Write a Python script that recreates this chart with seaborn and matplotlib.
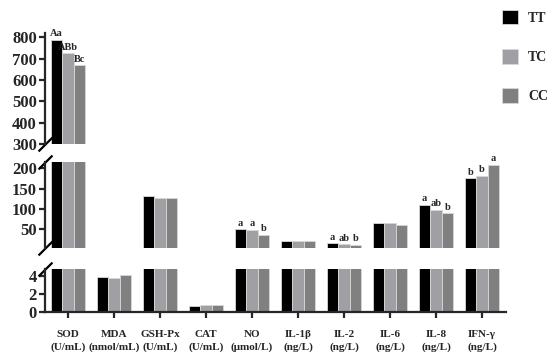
import pandas as pd
import numpy as np
import matplotlib.pyplot as plt
import seaborn as sns
from matplotlib.patches import Patch

# data
indices = ['SOD\n(U/mL)', 'MDA\n(nmol/mL)', 'GSH-Px\n(U/mL)', 'CAT\n(U/mL)', 'NO\n(μmol/L)',
           'IL-1β\n(ng/L)', 'IL-2\n(ng/L)', 'IL-6\n(ng/L)', 'IL-8\n(ng/L)', 'IFN-γ\n(ng/L)']
groups = ['TT', 'TC', 'CC']
tt_vals = [790, 3.9, 133, 0.70, 51, 22, 16, 67, 111, 175]
tc_vals = [725, 3.8, 128, 0.80, 49, 21, 14, 65, 98, 181]
cc_vals = [670, 4.1, 126, 0.75, 37, 23, 13, 61, 90, 208]
tt_sig = ['Aa', '', '', '', 'a', '', 'a', '', 'a', 'b']
tc_sig = ['ABb', '', '', '', 'a', '', 'ab', '', 'ab', 'b']
cc_sig = ['Bc', '', '', '', 'b', '', 'b', '', 'b', 'a']
colors = ['#000000', '#a0a0a4', '#808080']

rows = []
for g, vals, sig in zip(groups, [tt_vals, tc_vals, cc_vals], [tt_sig, tc_sig, cc_sig]):
    for ind, v, s in zip(indices, vals, sig):
        rows.append({'index': ind, 'group': g, 'value': v, 'sig': s})
df = pd.DataFrame(rows)

sns.set_style('ticks')
plt.rcParams['font.family'] = ['Liberation Serif', 'DejaVu Serif']
plt.rcParams['font.weight'] = 'bold'

fig = plt.figure(figsize=(5.5, 3.64), dpi=100)
ax_top = fig.add_axes([0.082, 0.604, 0.838, 0.305])
ax_mid = fig.add_axes([0.082, 0.319, 0.838, 0.236])
ax_bot = fig.add_axes([0.082, 0.143, 0.838, 0.118])

limits = [(300, 820), (5, 215), (0, 4.8)]
yticks = [[300, 400, 500, 600, 700, 800], [50, 100, 150, 200], [0, 2, 4]]

for ax, lim, tk in zip([ax_top, ax_mid, ax_bot], limits, yticks):
    sns.barplot(data=df, x='index', y='value', hue='group', order=indices, hue_order=groups,
                palette=colors, width=0.75, gap=0, edgecolor='#d8d8d8', linewidth=0.6,
                errorbar=None, legend=False, ax=ax)
    ax.set_ylim(*lim)
    ax.set_xlim(-0.5, 9.52)
    ax.set_yticks(tk)
    ax.set_xlabel('')
    ax.set_ylabel('')
    for sp in ['top', 'right']:
        ax.spines[sp].set_visible(False)
    for sp in ['left', 'bottom']:
        ax.spines[sp].set_linewidth(1.6)
    ax.tick_params(axis='y', length=4, width=1.6, labelsize=12, pad=2)
    ax.tick_params(axis='x', length=4, width=1.6, labelsize=8, pad=9)
    for lab in ax.get_yticklabels():
        lab.set_fontweight('bold')

for ax in [ax_top, ax_mid]:
    ax.spines['bottom'].set_visible(False)
    ax.tick_params(axis='x', bottom=False, labelbottom=False)

for lab in ax_bot.get_xticklabels():
    lab.set_fontweight('bold')
    lab.set_linespacing(1.45)

# significance letters
for ax, sel in [(ax_top, lambda v: v > 300), (ax_mid, lambda v: 5 < v <= 300)]:
    for gi, cont in enumerate(ax.containers):
        sub = df[df['group'] == groups[gi]].reset_index(drop=True)
        for bar, (_, r) in zip(cont, sub.iterrows()):
            if r['sig'] and sel(r['value']):
                ax.annotate(r['sig'], (bar.get_x() + bar.get_width() / 2, r['value']),
                            xytext=(0, 1), textcoords='offset points', ha='center',
                            va='bottom', fontsize=7.5, fontweight='bold')

# break marks on the left spine
kw = dict(marker=[(-1, -1), (1, 1)], markersize=10, linestyle='none',
          color='k', mec='k', mew=1.6, clip_on=False)
ax_top.plot([0], [0], transform=ax_top.transAxes, **kw)
ax_mid.plot([0, 0], [0, 1], transform=ax_mid.transAxes, **kw)
ax_bot.plot([0], [1], transform=ax_bot.transAxes, **kw)

handles = [Patch(facecolor=c, edgecolor='#d8d8d8', linewidth=0.6) for c in colors]
fig.legend(handles, groups, loc='upper left', bbox_to_anchor=(0.912, 0.972), frameon=False,
           borderpad=0, borderaxespad=0,
           labelspacing=1.75, handlelength=1.2, handleheight=1.2, handletextpad=0.7,
           prop={'size': 10, 'weight': 'bold'})

fig.savefig('out.png', dpi=100)
